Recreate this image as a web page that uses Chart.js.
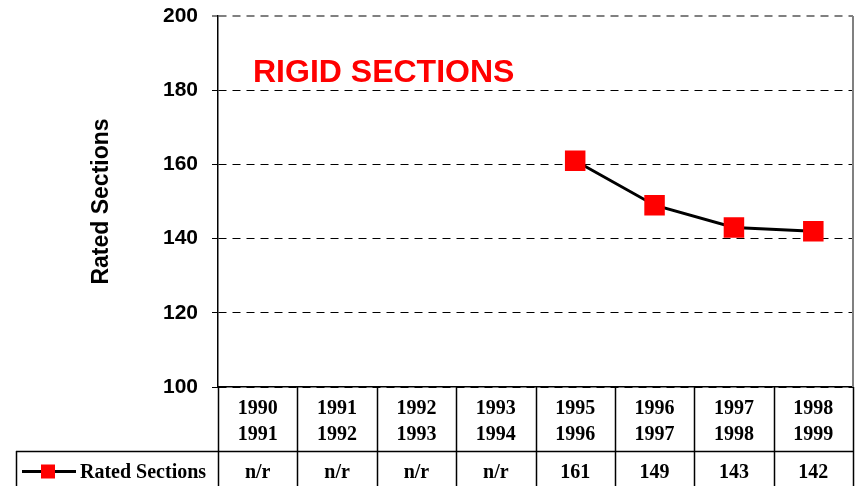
<!DOCTYPE html>
<html><head><meta charset="utf-8">
<script src="https://cdn.jsdelivr.net/npm/chart.js@4/dist/chart.umd.min.js"></script>
<style>html,body{margin:0;padding:0;background:#fff}#wrap{width:857px;height:486px}</style>
</head><body><div id="wrap"><canvas id="c" width="857" height="486"></canvas></div>
<script>
// ---- data ----
const categories = [["1990","1991"],["1991","1992"],["1992","1993"],["1993","1994"],["1995","1996"],["1996","1997"],["1997","1998"],["1998","1999"]];
const seriesName = "Rated Sections";
const ratedSections = [null, null, null, null, 161, 149, 143, 142];
const yTicks = [100, 120, 140, 160, 180, 200];
const chartTitle = "RIGID SECTIONS";
const axisTitle = "Rated Sections";
const missingLabel = "n/r";

const SANS = "Arial, 'Liberation Sans', sans-serif";
const SERIF = "'Times New Roman', 'Liberation Serif', serif";

const tablePlugin = {
  id: 'tablePlugin',
  afterDraw(chart) {
    const ctx = chart.ctx;
    const area = chart.chartArea;
    const xs = chart.scales.x;
    const n = categories.length;
    const H = chart.height;
    const rowTop = xs.bottom;
    const rowMid = (rowTop + H) / 2 + 3;
    ctx.save();
    ctx.fillStyle = '#ff0000';
    ctx.font = "bold 32px " + SANS;
    ctx.textAlign = 'left';
    ctx.textBaseline = 'alphabetic';
    ctx.fillText(chartTitle, 253, 82);
    ctx.strokeStyle = '#808080';
    ctx.lineWidth = 2;
    ctx.beginPath();
    ctx.moveTo(area.right, area.top);
    ctx.lineTo(area.right, area.bottom);
    ctx.stroke();
    ctx.strokeStyle = '#000';
    ctx.lineWidth = 1.5;
    ctx.beginPath();
    for (let i = 0; i <= n; i++) {
      let x;
      if (i === 0) x = area.left;
      else if (i === n) x = area.right;
      else x = (xs.getPixelForTick(i - 1) + xs.getPixelForTick(i)) / 2;
      ctx.moveTo(Math.round(x) + 0.5, area.bottom);
      ctx.lineTo(Math.round(x) + 0.5, H);
    }
    ctx.moveTo(16, rowTop + 0.5);
    ctx.lineTo(area.right, rowTop + 0.5);
    ctx.moveTo(16.5, rowTop);
    ctx.lineTo(16.5, H);
    ctx.stroke();
    ctx.lineWidth = 3;
    ctx.beginPath();
    ctx.moveTo(22, rowMid);
    ctx.lineTo(76, rowMid);
    ctx.stroke();
    ctx.fillStyle = '#ff0000';
    ctx.fillRect(41, rowMid - 7, 14, 14);
    ctx.fillStyle = '#000';
    ctx.font = "bold 20px " + SERIF;
    ctx.textBaseline = 'middle';
    ctx.textAlign = 'left';
    ctx.fillText(seriesName, 80, rowMid + 1);
    ctx.textAlign = 'center';
    for (let i = 0; i < n; i++) {
      const v = ratedSections[i];
      ctx.fillText(v === null ? missingLabel : String(v), xs.getPixelForTick(i), rowMid + 1);
    }
    ctx.restore();
  }
};

function zeroPad(s) { s.paddingTop = 0; s.paddingBottom = 0; s.paddingLeft = 0; s.paddingRight = 0; }

new Chart(document.getElementById('c'), {
  type: 'line',
  data: {
    labels: categories,
    datasets: [{
      label: seriesName,
      data: ratedSections,
      borderColor: '#000',
      borderWidth: 3,
      backgroundColor: '#ff0000',
      pointStyle: 'rect',
      pointRadius: 14.5,
      pointHoverRadius: 14.5,
      pointBorderWidth: 0,
      pointBackgroundColor: '#ff0000',
      pointBorderColor: '#ff0000',
      tension: 0,
      spanGaps: false
    }]
  },
  options: {
    responsive: false,
    animation: false,
    devicePixelRatio: 1,
    layout: { autoPadding: false, padding: { left: 88, right: 4, top: 16, bottom: 35 } },
    plugins: { legend: { display: false }, tooltip: { enabled: false }, title: { display: false } },
    scales: {
      x: {
        type: 'category',
        offset: true,
        grid: { display: false, drawOnChartArea: false, drawTicks: false },
        border: { display: true, color: '#000', width: 1.5 },
        ticks: {
          color: '#000',
          font: { family: SERIF, size: 20, weight: 'bold', lineHeight: 1.3 },
          padding: 9,
          maxRotation: 0,
          autoSkip: false
        },
        afterFit(s) { s.height = 64; zeroPad(s); }
      },
      y: {
        min: 100,
        max: 200,
        afterBuildTicks(s) { s.ticks = yTicks.map(v => ({ value: v })); },
        grid: {
          color: ctx => (ctx.tick && ctx.tick.value === 200) ? '#808080' : '#000',
          lineWidth: ctx => (ctx.tick && ctx.tick.value === 200) ? 2 : 1,
          tickColor: '#000',
          tickLength: 6,
          tickWidth: 1,
          tickBorderDash: []
        },
        border: { display: true, color: '#000', width: 1.5, dash: [8, 6] },
        ticks: {
          color: '#000',
          font: { family: SANS, size: 21, weight: 'bold' },
          padding: 14
        },
        title: {
          display: true,
          text: axisTitle,
          color: '#000',
          font: { family: SANS, size: 23, weight: 'bold' },
          padding: 0
        },
        afterFit(s) { s.width = 130; zeroPad(s); }
      }
    }
  },
  plugins: [tablePlugin]
});
</script>
</body></html>
